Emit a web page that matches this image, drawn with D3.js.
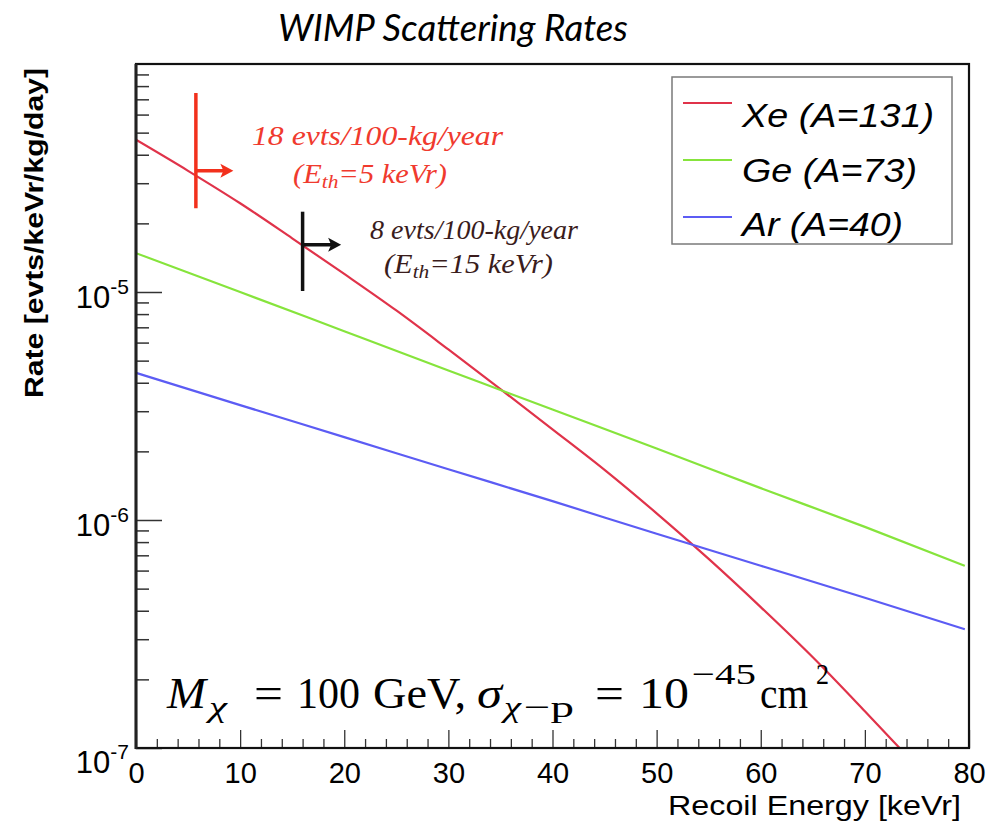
<!DOCTYPE html>
<html>
<head>
<meta charset="utf-8">
<script src="https://cdn.jsdelivr.net/npm/d3@7"></script>
<style>
  body { margin: 0; background: #fff; }
  svg { display: block; }
</style>
</head>
<body>
<div id="chart"></div>
<script>
// values
var xeEnergy = [0, 5, 10, 15, 20, 25, 30, 35, 40, 45, 50, 55, 60, 65, 70, 75];
var xeRate = [4.65e-5, 3.4e-5, 2.45e-5, 1.72e-5, 1.2e-5, 8.3e-6, 5.6e-6, 3.75e-6,
              2.5e-6, 1.66e-6, 1.07e-6, 6.75e-7, 4.15e-7, 2.5e-7, 1.45e-7, 8.3e-8];
var geEnergy = [0, 10, 20, 30, 40, 50, 60, 70, 79.6];
var geRate = [1.48e-5, 1.0e-5, 6.73e-6, 4.53e-6, 3.05e-6, 2.06e-6, 1.38e-6, 9.33e-7, 6.3e-7];
var arEnergy = [0, 10, 20, 30, 40, 50, 60, 70, 79.6];
var arRate = [4.42e-6, 3.19e-6, 2.31e-6, 1.67e-6, 1.21e-6, 8.7e-7, 6.3e-7, 4.56e-7, 3.32e-7];

var seriesNames = ["Xe (A=131)", "Ge (A=73)", "Ar (A=40)"];
var xTicks = [0, 10, 20, 30, 40, 50, 60, 70, 80];
var yTicks = [1e-7, 1e-6, 1e-5];

// threshold markers on the Xe curve
var thresholds = [
    {energy: 5.75, rate: 3.4e-5, lo: 2.33e-5, hi: 7.46e-5, arrow: 3.6,
     line1: "18 evts/100-kg/year", eth: "5 keVr"},
    {energy: 16, rate: 1.61e-5, lo: 1.01e-5, hi: 2.25e-5, arrow: 3.7,
     line1: "8 evts/100-kg/year", eth: "15 keVr"}
];

var width = 987;
var height = 829;

var svg = d3.select("#chart")
    .append("svg")
    .attr("width", width)
    .attr("height", height)
    .style("background", "#fff");

var x = d3.scaleLinear().domain([0, 80]).range([136, 969]);
var y = d3.scaleLog().domain([1e-7, 1e-4]).range([748, 64]);

var color = d3.scaleOrdinal()
    .domain(seriesNames)
    .range(["#e0334a", "#86e43c", "#5c5cf4"]);

var markColor = ["#f2301c", "#111111"];
var textColor = ["#f03a2e", "#3a1c1c"];

// title
svg.append("text")
    .attr("x", 278)
    .attr("y", 41)
    .attr("font-family", "Lato, 'Open Sans', sans-serif")
    .attr("font-style", "italic")
    .attr("font-size", 37)
    .attr("textLength", 350)
    .attr("lengthAdjust", "spacingAndGlyphs")
    .text("WIMP Scattering Rates");

svg.append("defs").append("clipPath")
    .attr("id", "frame-clip")
    .append("rect")
    .attr("x", 136).attr("y", 64)
    .attr("width", 833).attr("height", 684);

// curves
var line = d3.line()
    .x(d => x(d[0]))
    .y(d => y(d[1]))
    .curve(d3.curveMonotoneX);

var curves = [
    {name: seriesNames[0], pts: d3.zip(xeEnergy, xeRate)},
    {name: seriesNames[1], pts: d3.zip(geEnergy, geRate)},
    {name: seriesNames[2], pts: d3.zip(arEnergy, arRate)}
];

svg.append("g")
    .attr("clip-path", "url(#frame-clip)")
    .selectAll("path")
    .data(curves)
    .join("path")
    .attr("fill", "none")
    .attr("stroke", d => color(d.name))
    .attr("stroke-width", 2.2)
    .attr("d", d => line(d.pts));

// axes, ticks drawn inwards like ROOT
var xMinor = d3.range(0, 81, 2).filter(v => v % 10 != 0);
svg.append("g")
    .attr("transform", "translate(0,748)")
    .call(d3.axisBottom(x).tickValues(xMinor).tickSize(-9).tickFormat(""))
    .call(g => g.select(".domain").remove())
    .selectAll("line").attr("stroke", "#333").attr("stroke-width", 1.3);

var xAxis = svg.append("g")
    .attr("transform", "translate(0,748)")
    .call(d3.axisBottom(x).tickValues(xTicks).tickSize(-18).tickSizeOuter(0).tickPadding(14));
xAxis.select(".domain").remove();
xAxis.selectAll("line").attr("stroke", "#333").attr("stroke-width", 1.3);
xAxis.selectAll("text")
    .attr("font-family", "'Liberation Sans', Arial, sans-serif")
    .attr("font-size", 29)
    .attr("fill", "#000");

var yMinor = [];
yTicks.forEach(function (d) {
    for (var k = 2; k <= 9; k++) yMinor.push(d * k);
});
svg.append("g")
    .attr("transform", "translate(136,0)")
    .call(d3.axisLeft(y).tickValues(yMinor).tickSize(-13).tickFormat(""))
    .call(g => g.select(".domain").remove())
    .selectAll("line").attr("stroke", "#333").attr("stroke-width", 1.5);

var yAxis = svg.append("g")
    .attr("transform", "translate(136,0)")
    .call(d3.axisLeft(y).tickValues(yTicks).tickSize(-26).tickPadding(7));
yAxis.select(".domain").remove();
yAxis.selectAll("line").attr("stroke", "#333").attr("stroke-width", 1.5);
yAxis.selectAll("text")
    .attr("font-family", "'Liberation Sans', Arial, sans-serif")
    .attr("font-size", 31)
    .attr("fill", "#000")
    .attr("dy", d => d == 1e-7 ? 24 : 15)
    .text(null)
    .each(function (d) {
        var t = d3.select(this);
        t.append("tspan").text("10");
        t.append("tspan")
            .attr("font-size", 21)
            .attr("dy", -14)
            .text("-" + Math.round(-Math.log10(d)));
    });

// frame
svg.append("rect")
    .attr("x", 136).attr("y", 64)
    .attr("width", 833).attr("height", 684)
    .attr("fill", "none")
    .attr("stroke", "#111")
    .attr("stroke-width", 2.2);
svg.append("line")
    .attr("x1", 136).attr("x2", 136)
    .attr("y1", 64).attr("y2", 749)
    .attr("stroke", "#222")
    .attr("stroke-width", 3);

// axis titles
svg.append("text")
    .attr("x", 961)
    .attr("y", 815)
    .attr("text-anchor", "end")
    .attr("font-family", "'Liberation Sans', Arial, sans-serif")
    .attr("font-size", 28)
    .attr("textLength", 293)
    .attr("lengthAdjust", "spacingAndGlyphs")
    .text("Recoil Energy [keVr]");

svg.append("text")
    .attr("transform", "translate(43,68) rotate(-90)")
    .attr("text-anchor", "end")
    .attr("font-family", "'Liberation Sans', Arial, sans-serif")
    .attr("font-weight", "bold")
    .attr("font-size", 25)
    .attr("textLength", 330)
    .attr("lengthAdjust", "spacingAndGlyphs")
    .text("Rate [evts/keVr/kg/day]");

// legend
var legend = svg.append("g");
legend.append("rect")
    .attr("x", 672).attr("y", 77)
    .attr("width", 280).attr("height", 167)
    .attr("fill", "#fff")
    .attr("stroke", "#7a7a7a")
    .attr("stroke-width", 1.5);

var legendItems = legend.selectAll(".legend-item")
    .data(seriesNames)
    .join("g")
    .attr("class", "legend-item")
    .attr("transform", (d, i) => "translate(0," + (103 + i * 57) + ")");

legendItems.append("line")
    .attr("x1", 683).attr("x2", 732)
    .attr("stroke", d => color(d))
    .attr("stroke-width", 2.2);

legendItems.append("text")
    .attr("x", 742)
    .attr("y", (d, i) => [24, 22, 19][i])
    .attr("font-family", "'Liberation Sans', Arial, sans-serif")
    .attr("font-style", "italic")
    .attr("font-size", 34)
    .attr("textLength", (d, i) => [192, 175, 161][i])
    .attr("lengthAdjust", "spacingAndGlyphs")
    .text(d => d);

// threshold markers
var marks = svg.selectAll(".threshold")
    .data(thresholds)
    .join("g")
    .attr("class", "threshold");

marks.append("line")
    .attr("x1", d => x(d.energy)).attr("x2", d => x(d.energy))
    .attr("y1", d => y(d.hi)).attr("y2", d => y(d.lo))
    .attr("stroke", (d, i) => markColor[i])
    .attr("stroke-width", 3.5);

marks.append("line")
    .attr("x1", d => x(d.energy)).attr("x2", d => x(d.energy + d.arrow) - 6)
    .attr("y1", d => y(d.rate)).attr("y2", d => y(d.rate))
    .attr("stroke", (d, i) => markColor[i])
    .attr("stroke-width", 3.5);

marks.append("path")
    .attr("d", function (d) {
        var ex = x(d.energy + d.arrow), ey = y(d.rate);
        return "M" + ex + "," + ey + "L" + (ex - 13) + "," + (ey - 7) + "L" + (ex - 10) + "," + ey + "L" + (ex - 13) + "," + (ey + 7) + "Z";
    })
    .attr("fill", (d, i) => markColor[i]);

var serif = "'Liberation Serif', 'Times New Roman', serif";

marks.append("text")
    .attr("x", (d, i) => [252, 370][i])
    .attr("y", (d, i) => [145, 239][i])
    .attr("font-family", serif)
    .attr("font-style", "italic")
    .attr("font-size", 27)
    .attr("fill", (d, i) => textColor[i])
    .attr("textLength", (d, i) => [251, 208][i])
    .attr("lengthAdjust", "spacingAndGlyphs")
    .text(d => d.line1);

var ethText = marks.append("text")
    .attr("x", (d, i) => [293, 384][i])
    .attr("y", (d, i) => [183, 273][i])
    .attr("font-family", serif)
    .attr("font-style", "italic")
    .attr("font-size", 27)
    .attr("fill", (d, i) => textColor[i])
    .attr("textLength", (d, i) => [154, 169][i])
    .attr("lengthAdjust", "spacingAndGlyphs");
ethText.append("tspan").text("(E");
ethText.append("tspan").attr("font-size", 19).attr("dy", 5).text("th");
ethText.append("tspan").attr("dy", -5).text(d => "=" + d.eth + ")");

// parameter text, pieces placed one by one
var formula = svg.append("g")
    .attr("font-family", serif)
    .attr("fill", "#000");
var pieces = [
    {t: "M", x: 167, w: 39, it: true},
    {t: "χ", x: 209, w: 18, it: true, sub: true},
    {t: "=", x: 254, w: 29},
    {t: "100", x: 297, w: 63},
    {t: "GeV,", x: 373, w: 93},
    {t: "σ", x: 477, w: 25, it: true},
    {t: "χ", x: 504, w: 17, it: true, sub: true},
    {t: "−p", x: 524, w: 50, sub: true},
    {t: "=", x: 595, w: 29},
    {t: "10", x: 639, w: 50},
    {t: "−45", x: 692, w: 64, sup: true},
    {t: "cm", x: 760, w: 48},
    {t: "2", x: 816, w: 13, sup: true}
];
formula.selectAll("text")
    .data(pieces)
    .join("text")
    .attr("x", d => d.x)
    .attr("y", d => d.sub ? 717 : d.sup ? 684 : 708)
    .attr("font-style", d => d.it ? "italic" : "normal")
    .attr("font-size", d => (d.sub || d.sup) ? 30 : 45)
    .attr("textLength", d => d.w)
    .attr("lengthAdjust", "spacingAndGlyphs")
    .text(d => d.t);
</script>
</body>
</html>
